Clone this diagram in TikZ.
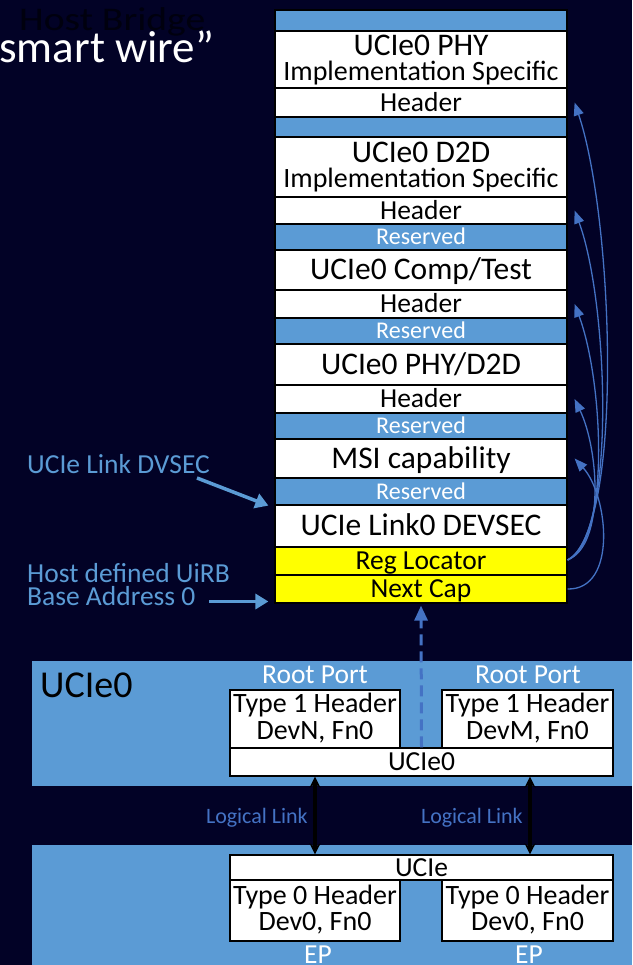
\documentclass[tikz,border=0pt]{standalone}
\usepackage{fontspec}
\setmainfont{Carlito}
\usetikzlibrary{arrows.meta}

\definecolor{navy}{RGB}{2,2,38}
\definecolor{panelblue}{RGB}{91,155,213}
\definecolor{linkblue}{RGB}{68,114,196}
\definecolor{capyellow}{RGB}{255,255,0}
\definecolor{shadowtext}{RGB}{0,0,14}

\newcommand{\fsz}[1]{\fontsize{#1}{#1}\selectfont}

\tikzset{
  % text sizes; the text box is as tall as a capital letter so that nodes centre on the caps
  f38/.style={font=\fsz{38}, text height=24pt, text depth=0pt},
  f33/.style={font=\fsz{33}, text height=20.9pt, text depth=0pt},
  f31/.style={font=\fsz{31.5}, text height=19.9pt, text depth=0pt},
  f28/.style={font=\fsz{28}, text height=17.7pt, text depth=0pt},
  f27/.style={font=\fsz{27.5}, text height=17.4pt, text depth=0pt},
  f24/.style={font=\fsz{24}, text height=15.2pt, text depth=0pt},
  f22/.style={font=\fsz{22}, text height=13.9pt, text depth=0pt},
  cell/.style={draw=black, line width=1.2pt, minimum width=292pt, inner sep=0pt},
  blank/.style={cell, fill=white, f31},
  hdr/.style={cell, fill=white, f27},
  resv/.style={cell, fill=panelblue, text=white, f24},
  hilite/.style={cell, fill=capyellow, f27},
  capc/.style={inner sep=0pt},
  panel/.style={fill=panelblue, inner sep=0pt},
  regbox/.style={draw=black, line width=1.2pt, fill=white, inner sep=0pt},
  boxtext/.style={capc, f28},
  sidelabel/.style={capc, anchor=west, text=panelblue, f27},
  linklabel/.style={capc, anchor=east, text=linkblue, f22},
  pointer/.style={linkblue, line width=1.3pt, -{Triangle[length=13pt,width=10pt]}},
  callout/.style={panelblue, line width=3.5pt, -{Triangle[length=13pt,width=15pt]}},
  uplink/.style={linkblue, line width=3pt, dash pattern=on 11pt off 6pt,
                 -{Triangle[length=15pt,width=13pt]}},
  loglink/.style={black, line width=3.5pt, {Stealth[length=11pt,width=11pt]}-{Stealth[length=11pt,width=11pt]}},
}

\begin{document}
\begin{tikzpicture}[x=1pt, y=-1pt]
  \useasboundingbox (0,0) rectangle (632,965);
  \fill[navy] (0,0) rectangle (632,965);

  % title
  \node[capc, anchor=west, text=shadowtext, f33] (hostbridge) at (19,20) {\scalebox{1.2}[1]{Host Bridge}};
  \node[inner sep=0pt, anchor=base west, text=white, font=\fsz{45}] (smartwire) at (-1,63) {smart wire”};

  % register map of the host bridge
  \node[cell, fill=panelblue, minimum height=21pt] (bar0) at (421,20.5) {};
  \node[cell, fill=white, minimum height=57pt] (phyimpl) at (421,59.5) {};
  \node[capc, f31] (phyname) at (421,45.5) {UCIe0 PHY};
  \node[capc, f28] (physpec) at (421,72) {Implementation Specific};
  \node[hdr, minimum height=29pt] (hphy) at (421,102.5) {Header};
  \node[cell, fill=panelblue, minimum height=20pt] (bar1) at (421,127) {};
  \node[cell, fill=white, minimum height=60pt] (d2dimpl) at (421,167) {};
  \node[capc, f31] (d2dname) at (421,153) {UCIe0 D2D};
  \node[capc, f28] (d2dspec) at (421,179) {Implementation Specific};
  \node[hdr, minimum height=27pt] (hd2d) at (421,210.5) {Header};
  \node[resv, minimum height=26pt] (res1) at (421,237) {Reserved};
  \node[blank, minimum height=40pt] (comp) at (421,270) {UCIe0 Comp/Test};
  \node[hdr, minimum height=28pt] (hcomp) at (421,304) {Header};
  \node[resv, minimum height=26pt] (res2) at (421,331) {Reserved};
  \node[blank, minimum height=41pt] (phyd2d) at (421,364.5) {UCIe0 PHY/D2D};
  \node[hdr, minimum height=28pt] (hphyd2d) at (421,399) {Header};
  \node[resv, minimum height=26pt] (res3) at (421,426) {Reserved};
  \node[blank, minimum height=39pt] (msi) at (421,458.5) {MSI capability};
  \node[resv, minimum height=27pt] (res4) at (421,491.5) {Reserved};
  \node[blank, minimum height=42pt] (link) at (421,526) {UCIe Link0 DEVSEC};
  \node[hilite, minimum height=28pt] (reg) at (421,561) {Reg Locator};
  \node[hilite, minimum height=28pt] (next) at (421,589) {Next Cap};

  % register locator and next-capability pointers
  \draw[pointer] ([yshift=1pt]reg.east) .. controls (624,530) and (614,220) .. ([xshift=7pt]hphy.east);
  \draw[pointer] ([yshift=1pt]reg.east) .. controls (617,535) and (608,300) .. ([xshift=7pt]hd2d.east);
  \draw[pointer] ([yshift=1pt]reg.east) .. controls (611,540) and (603,380) .. ([xshift=7pt]hcomp.east);
  \draw[pointer] ([yshift=1pt]reg.east) .. controls (605,545) and (599,450) .. ([xshift=7pt]hphyd2d.east);
  \draw[pointer] (next.east) .. controls (618,590) and (608,495) .. ([xshift=7pt]msi.east);

  % side callouts
  \node[sidelabel] (dvseclbl) at (27,465) {UCIe Link DVSEC};
  \node[sidelabel] (uirblbl) at (27,573.5) {Host defined UiRB};
  \node[sidelabel] (baselbl) at (27,597) {Base Address 0};
  \coordinate (dvsecfrom) at (197,478);
  \coordinate (uirbfrom) at (209,601.5);
  \draw[callout] (dvsecfrom) -- ([xshift=-6pt]res4.south west);
  \draw[callout] (uirbfrom) -- ([xshift=-6pt]uirbfrom -| next.west);

  % root complex
  \node[panel, minimum width=600pt, minimum height=125pt] (rcpanel) at (332,723.5) {};
  \node[capc, anchor=west, f38] (rclabel) at (40,685) {UCIe0};
  \node[capc, text=white, f27] (rpa) at (315,675) {Root Port};
  \node[capc, text=white, f27] (rpb) at (528,675) {Root Port};
  \node[regbox, minimum width=170pt, minimum height=58pt] (t1n) at (315,719) {};
  \node[regbox, minimum width=171pt, minimum height=58pt] (t1m) at (527.5,719) {};
  \node[boxtext] (t1ntop) at (315,704) {Type 1 Header};
  \node[boxtext] (t1nbot) at (315,731) {DevN, Fn0};
  \node[boxtext] (t1mtop) at (527.5,704) {Type 1 Header};
  \node[boxtext] (t1mbot) at (527.5,731) {DevM, Fn0};
  \node[regbox, f27, minimum width=383pt, minimum height=28pt] (ucie0bar) at (421.5,762) {UCIe0};

  % endpoint
  \node[panel, minimum width=600pt, minimum height=120pt] (eppanel) at (332,905) {};
  \node[regbox, f27, minimum width=383pt, minimum height=25pt] (uciebar) at (421.5,867.5) {UCIe};
  \node[regbox, minimum width=170pt, minimum height=61pt] (t0a) at (315,910.5) {};
  \node[regbox, minimum width=171pt, minimum height=61pt] (t0b) at (527.5,910.5) {};
  \node[boxtext] (t0atop) at (315,896) {Type 0 Header};
  \node[boxtext] (t0abot) at (315,922) {Dev0, Fn0};
  \node[boxtext] (t0btop) at (527.5,896) {Type 0 Header};
  \node[boxtext] (t0bbot) at (527.5,922) {Dev0, Fn0};
  \node[capc, text=white, f27] (epa) at (318,955) {EP};
  \node[capc, text=white, f27] (epb) at (529,955) {EP};

  % links
  \draw[uplink] (ucie0bar.north) -- ([yshift=-2pt]next.south);
  \draw[loglink] (t1n.south |- ucie0bar.south) -- (t1n.south |- uciebar.north);
  \draw[loglink] ([xshift=2.5pt]t1m.south |- ucie0bar.south) -- ([xshift=2.5pt]t1m.south |- uciebar.north);
  \node[linklabel] (lla) at (308,817) {Logical Link};
  \node[linklabel] (llb) at (523,817) {Logical Link};
\end{tikzpicture}
\end{document}
